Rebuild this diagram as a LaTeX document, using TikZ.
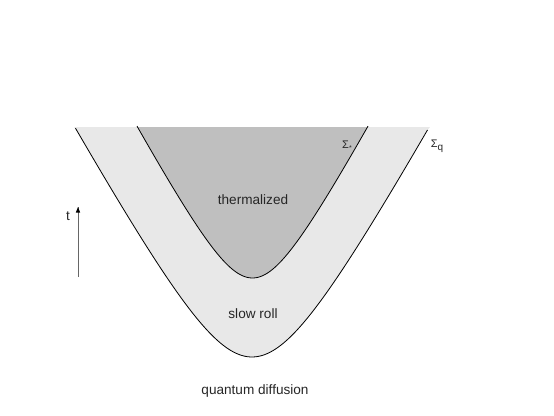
\documentclass[tikz,border=0pt]{standalone}
\usepackage{fontspec}
\setmainfont{Liberation Sans}
\usetikzlibrary{arrows.meta}
\begin{document}
\begin{tikzpicture}[x=10pt,y=-10pt,font=\fontsize{13.6}{15}\selectfont]
            \useasboundingbox (0,0) rectangle (55.4,41.5);
            % light band under Sigma_q, dark region under Sigma_*
            \fill[black!9] plot[domain=-17.8:17.8,samples=120] ({25.2+\x},{max(12.7,35.7+11.1-sqrt(11.1*11.1+3.31*\x*\x))}) -- cycle;
            \fill[black!25] plot[domain=-11.7:11.7,samples=120] ({25.25+\x},{max(12.7,27.8+7.58-sqrt(7.58*7.58+3.455*\x*\x))}) -- cycle;
            \draw[line width=0.8pt] plot[domain=-17.65:17.55,samples=120] ({25.2+\x},{35.7+11.1-sqrt(11.1*11.1+3.31*\x*\x)});
            \draw[line width=0.8pt] plot[domain=-11.55:11.55,samples=120] ({25.25+\x},{27.8+7.58-sqrt(7.58*7.58+3.455*\x*\x)});
            \node[black!85] (therm) at (25.3,20.0) {thermalized};
            \node[black!85] (slow) at (25.3,31.4) {slow roll};
            \node[black!85] (quant) at (25.5,39.1) {quantum diffusion};
            \node[black!85,font=\fontsize{11}{12}\selectfont] (sigs) at (34.7,14.6) {Σ\raisebox{-0.3ex}{\fontsize{7}{8}\selectfont *}};
            \node[black!85,font=\fontsize{11}{12}\selectfont] (sigq) at (43.7,14.6) {Σ\raisebox{-0.45ex}{\fontsize{10}{11}\selectfont q}};
            \node[black!85] (t) at (6.8,21.6) {t};
            \coordinate (tbot) at (7.8,27.7);
            \coordinate (ttop) at (7.8,20.7);
            \draw[black!60,line width=0.6pt] (tbot) -- (ttop);
            \fill[black] (ttop) -- ++(-0.22,0.55) -- ++(0.44,0) -- cycle;
\end{tikzpicture}
\end{document}
